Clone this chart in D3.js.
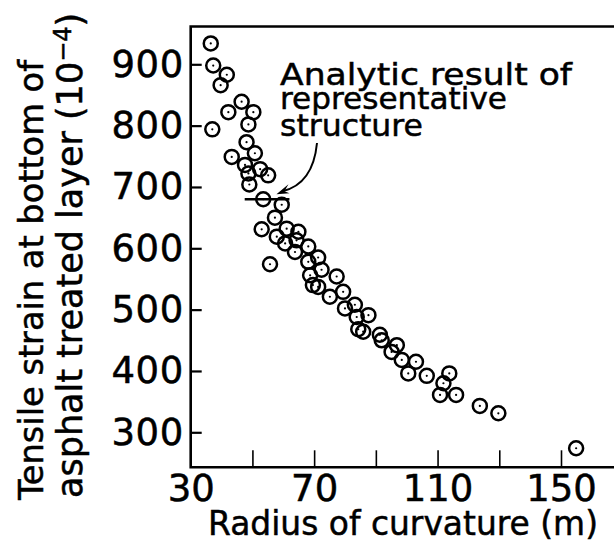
<!DOCTYPE html>
<html>
<head>
<meta charset="utf-8">
<script src="https://cdn.jsdelivr.net/npm/d3@7/dist/d3.min.js"></script>
<style>
	body { margin:0; background:#ffffff; }
	svg text { font-family:"DejaVu Sans", sans-serif; fill:#000000; stroke:#000000; stroke-width:0.5px; }
</style>
</head>
<body>
<svg id="mysvg" width="614" height="543"></svg>
<script>

// measured points, radius of curvature (m) and tensile strain (10^-4)
var radius = [36.5, 37.3, 41.7, 39.7, 46.5, 42.2, 50.3, 48.7, 37.0, 48.1,
			50.8, 43.3, 47.6, 52.5, 48.7, 55.1, 49.0, 53.5, 59.5, 57.3,
			53.0, 61.1, 57.9, 64.9, 60.6, 64.3, 68.1, 63.8, 55.7, 71.3,
			68.1, 72.4, 68.7, 77.3, 71.3, 69.6, 79.4, 75.1, 83.2, 80.0,
			87.6, 83.8, 84.3, 85.9, 91.3, 91.9, 96.8, 95.1, 98.4, 103.0,
			100.5, 106.5, 113.8, 111.9, 110.8, 116.0, 123.7, 129.7, 154.9];
var strain = [934, 898, 883, 866, 839, 822, 822, 802, 794, 773,
			755, 749, 736, 729, 722, 719, 704, 680, 671, 650,
			631, 632, 619, 627, 608, 613, 603, 594, 574, 585,
			578, 565, 556, 554, 537, 540, 529, 521, 508, 502,
			491, 488, 468, 464, 459, 450, 442, 431, 418, 415,
			396, 392, 396, 380, 361, 361, 343, 331, 274];

// analytic result of representative structure (short bar)
var analyticRadius = [47.5, 62];
var analyticStrain = [680, 680];

var xTicks = [30, 50, 70, 90, 110, 130, 150];
var xLabels = [30, 70, 110, 150];
var yTicks = [300, 400, 500, 600, 700, 800, 900];

function ChartMaker () {

	var svg = d3.select("#mysvg");

	var x = d3.scaleLinear().domain([30, 150]).range([190.7, 561]);
	var y = d3.scaleLinear().domain([300, 900]).range([432.3, 64.3]);

	var frame = svg.append("g");

	// open frame: top, left, bottom (right side runs off the picture)
	frame.append("path")
			.attr("d" , "M640,26.5 L190.7,26.5 L190.7,467.3 L640,467.3")
			.attr("fill" , "none")
			.attr("stroke" , "#000000")
			.attr("stroke-width" , 2.6);

	var yAxis = svg.append("g")
			.attr("transform" , "translate(190.7,0)")
			.call(d3.axisLeft(y).tickValues(yTicks).tickSize(-11).tickPadding(7));

	yAxis.select(".domain").remove();
	yAxis.selectAll("line").attr("stroke-width" , 2.2);
	yAxis.selectAll("text")
			.attr("font-size" , 37)
			.attr("font-family" , "DejaVu Sans")
			.attr("letter-spacing" , 0.5);

	var xAxis = svg.append("g")
			.attr("transform" , "translate(0,467.3)")
			.call(d3.axisBottom(x).tickValues(xTicks).tickSize(-17).tickPadding(7)
				.tickFormat(function (d) { return xLabels.indexOf(d) >= 0 ? d : ""; }));

	xAxis.select(".domain").remove();
	xAxis.selectAll("line").attr("stroke-width" , 1.6);
	xAxis.selectAll("text")
			.attr("font-size" , 37)
			.attr("font-family" , "DejaVu Sans");

	// data circles
	var pts = svg.append("g");
	var idx = d3.range(radius.length);

	pts.selectAll("circle.ring")
			.data(idx)
			.enter()
			.append("circle")
			.attr("class" , "ring")
			.attr("cx" , function (i) { return x(radius[i]); })
			.attr("cy" , function (i) { return y(strain[i]); })
			.attr("r" , 7)
			.attr("fill" , "none")
			.attr("stroke" , "#000000")
			.attr("stroke-width" , 2.5);

	pts.selectAll("circle.dot")
			.data(idx)
			.enter()
			.append("circle")
			.attr("class" , "dot")
			.attr("cx" , function (i) { return x(radius[i]); })
			.attr("cy" , function (i) { return y(strain[i]); })
			.attr("r" , 1.1)
			.attr("fill" , "#000000");

	svg.append("line")
			.attr("x1" , x(analyticRadius[0]))
			.attr("x2" , x(analyticRadius[1]))
			.attr("y1" , y(analyticStrain[0]))
			.attr("y2" , y(analyticStrain[1]))
			.attr("stroke" , "#000000")
			.attr("stroke-width" , 2.4);

	// annotation
	var note = svg.append("g");
	var noteLines = ["Analytic result of", "representative", "structure"];
	var noteBase = [84.5, 109, 136];
	var noteLen = [292, 227, 143];

	note.selectAll("text")
			.data(noteLines)
			.enter()
			.append("text")
			.attr("x" , 280)
			.attr("y" , function (d, i) { return noteBase[i]; })
			.attr("font-size" , 31)
			.attr("textLength" , function (d, i) { return noteLen[i]; })
			.attr("lengthAdjust" , "spacingAndGlyphs")
			.text(function (d) { return d; });

	var tipX = x(analyticRadius[1]) - 13;
	var tipY = y(analyticStrain[0]) - 5;

	note.append("path")
			.attr("d" , "M317,143 Q313,184 " + (tipX + 6) + "," + (tipY - 3))
			.attr("fill" , "none")
			.attr("stroke" , "#000000")
			.attr("stroke-width" , 2);

	note.append("path")
			.attr("d" , "M" + tipX + "," + tipY + " L" + (tipX + 12) + "," + (tipY - 10)
				+ " L" + (tipX + 8) + "," + (tipY - 3) + " L" + (tipX + 13) + "," + (tipY - 1) + " Z")
			.attr("fill" , "#000000");

	// axis titles
	svg.append("text")
			.attr("x" , 208)
			.attr("y" , 535)
			.attr("font-size" , 34)
			.attr("textLength" , 390)
			.attr("lengthAdjust" , "spacingAndGlyphs")
			.text("Radius of curvature (m)");

	svg.append("text")
			.attr("transform" , "translate(43,500) rotate(-90)")
			.attr("font-size" , 34)
			.attr("textLength" , 440)
			.attr("lengthAdjust" , "spacingAndGlyphs")
			.text("Tensile strain at bottom of");

	var t2 = svg.append("text")
			.attr("transform" , "translate(82,498) rotate(-90)")
			.attr("font-size" , 35);

	t2.append("tspan").text("asphalt treated layer (10");
	t2.append("tspan").attr("font-size" , 24).attr("dy" , -11).text("\u22124");
	t2.append("tspan").attr("dy" , 11).text(")");
}

ChartMaker();
</script>
</body>
</html>
